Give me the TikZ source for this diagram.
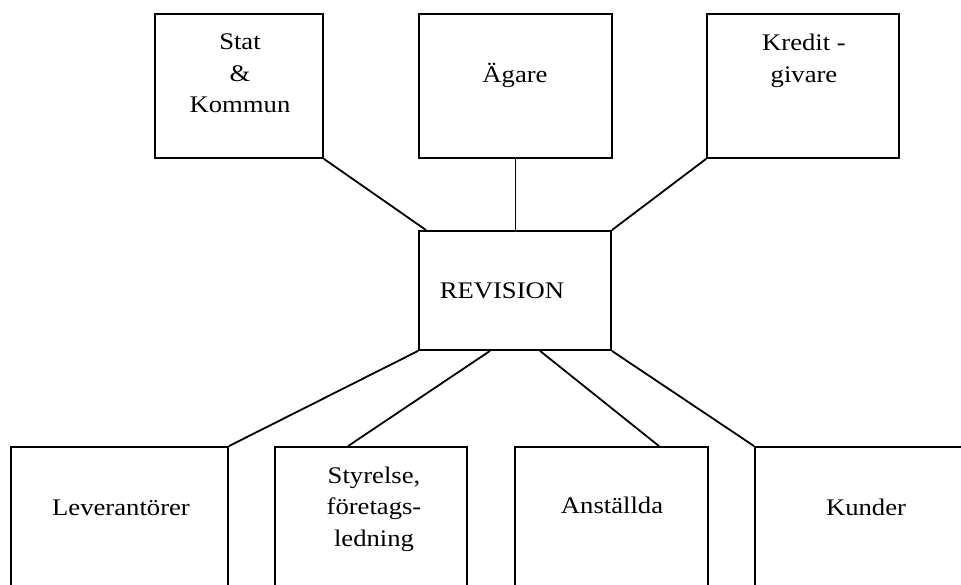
\documentclass[tikz,border=0pt]{standalone}
\usepackage{fontspec}
\setmainfont{Liberation Serif}[FakeStretch=1.12]
\newcommand{\mlines}[1]{\begin{tabular}[t]{@{}c@{}}#1\end{tabular}}
\begin{document}
\begin{tikzpicture}[x=1pt,y=-1pt,
  box/.style={draw=black,line width=1.8pt,rectangle,inner sep=0pt},
  lbl/.style={anchor=base,inner sep=0pt,font=\fontsize{23.8}{31.5}\selectfont},
  link/.style={draw=black,line width=1.8pt}]
\useasboundingbox (0,0) rectangle (961,585);
\clip (0,0) rectangle (961,585);
% boxes
\node[box,minimum width=168pt,minimum height=144pt] (stat) at (239,86) {};
\node[box,minimum width=193pt,minimum height=144pt] (aga) at (515.5,86) {};
\node[box,minimum width=192pt,minimum height=144pt] (kred) at (803,86) {};
\node[box,minimum width=192pt,minimum height=119pt] (rev) at (515,290.5) {};
\node[box,minimum width=217pt,minimum height=153pt] (lev) at (119.5,523.5) {};
\node[box,minimum width=192pt,minimum height=153pt] (sty) at (371,523.5) {};
\node[box,minimum width=193pt,minimum height=153pt] (ans) at (611.5,523.5) {};
\node[box,minimum width=225pt,minimum height=153pt] (kun) at (867.5,523.5) {};
% labels
\node[lbl] (tstat) at (240,50) {\mlines{Stat\\\&\\Kommun}};
\node[lbl] (taga) at (515,83) {Ägare};
\node[lbl] (tkred) at (804,51) {\mlines{Kredit -\\givare}};
\node[lbl] (trev) at (502,299) {REVISION};
\node[lbl] (tlev) at (121,515) {Leverantörer};
\node[lbl] (tsty) at (374,483) {\mlines{Styrelse,\\företags-\\ledning}};
\node[lbl] (tans) at (612,513) {Anställda};
\node[lbl] (tkun) at (866,515) {Kunder};
% connectors
\draw[link] (stat.south east) -- ([xshift=8pt]rev.north west);
\draw[link] (aga.south) -- (aga.south |- rev.north);
\draw[link] (kred.south west) -- (rev.north east);
\draw[link] (rev.south west) -- (lev.north east);
\draw[link] ([xshift=-25pt]rev.south) -- ([xshift=-23pt]sty.north);
\draw[link] ([xshift=25pt]rev.south) -- ([xshift=47.5pt]ans.north);
\draw[link] (rev.south east) -- (kun.north west);
\end{tikzpicture}
\end{document}
